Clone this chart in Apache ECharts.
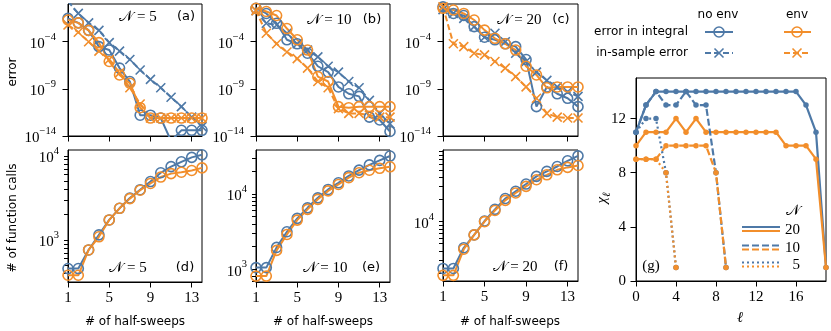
<!DOCTYPE html>
<html>
<head>
<meta charset="utf-8">
<script src="https://cdn.jsdelivr.net/npm/echarts@6/dist/echarts.min.js"></script>
<style>
  html, body { margin: 0; padding: 0; background: #fff; }
  #chart { width: 831px; height: 331px; }
</style>
</head>
<body>
<div id="chart"></div>
<script>
// ---- data ----
const halfSweeps = [1, 2, 3, 4, 5, 6, 7, 8, 9, 10, 11, 12, 13, 14];

// error panels (a) N=5, (b) N=10, (c) N=20
const errIntNoEnv5 = [3e-2, 1e-2, 1.6e-3, 3e-5, 1.3e-5, 1.6e-7, 6e-9, 1.6e-12, 1.6e-12, 8e-13, 3e-15, 4e-14, 4e-14, 4e-14];
const errSmpNoEnv5 = [2, 1e-1, 1e-2, 1.6e-3, 8e-5, 1e-5, 1.3e-6, 1e-7, 1e-8, 1.3e-9, 1.3e-10, 1.3e-11, 1e-12, 1e-13];
const errIntEnv5 = [2e-2, 1e-2, 1.6e-3, 8e-5, 8e-7, 3e-8, 4e-9, 1e-11, 8e-13, 8e-13, 8e-13, 8e-13, 8e-13, 8e-13];
const errSmpEnv5 = [6e-3, 1e-3, 1e-4, 1e-5, 1.3e-6, 5e-8, 1.3e-9, 2.5e-11, 8e-13, 8e-13, 8e-13, 8e-13, 8e-13, 8e-13];

const errIntNoEnv10 = [0.35, 0.1, 9e-3, 1.6e-4, 6e-5, 6e-6, 2.5e-7, 6e-8, 1.6e-9, 3e-10, 1.6e-10, 1e-12, 5e-13, 3e-14];
const errSmpNoEnv10 = [0.2, 9e-3, 6e-3, 8e-4, 6e-5, 1.3e-5, 2.5e-6, 2.5e-7, 6e-8, 6e-9, 1.3e-9, 6e-11, 2.5e-12, 2e-13];
const errIntEnv10 = [0.35, 0.16, 6e-2, 2.5e-3, 1.6e-4, 1.3e-5, 2e-8, 6e-9, 1.3e-11, 1e-11, 1.3e-11, 1.3e-11, 1.3e-11, 1.3e-11];
const errSmpEnv10 = [0.2, 8e-4, 6e-5, 8e-6, 1.6e-6, 1.6e-7, 6e-9, 1.3e-9, 8e-12, 2.5e-12, 2.5e-12, 1.6e-12, 1e-12, 1e-12];

const errIntNoEnv20 = [0.5, 0.1, 6e-2, 4e-3, 3e-4, 1.6e-4, 6e-5, 3e-5, 1.3e-6, 1.3e-11, 1.6e-9, 3e-10, 1e-10, 1.3e-11];
const errSmpNoEnv20 = [0.25, 0.1, 3e-2, 4e-3, 3e-4, 8e-4, 1e-4, 6e-6, 8e-7, 6e-8, 8e-9, 1.6e-9, 5e-10, 1.6e-10];
const errIntEnv20 = [0.35, 0.23, 0.1, 2e-2, 1.7e-3, 2.3e-4, 6e-5, 1.3e-5, 2.5e-7, 3e-8, 1.3e-9, 1.6e-9, 1.6e-9, 1.6e-9];
const errSmpEnv20 = [0.5, 6e-5, 3e-5, 6e-6, 4e-6, 8e-7, 1.6e-7, 2e-8, 1.6e-9, 1e-10, 2.5e-12, 1e-12, 8e-13, 8e-13];

// function-call panels (d) N=5, (e) N=10, (f) N=20
const callsNoEnv5 = [457, 457, 760, 1150, 1730, 2380, 3150, 3960, 4950, 6300, 7450, 8500, 9600, 10300];
const callsEnv5 = [380, 380, 760, 1090, 1730, 2380, 3100, 3900, 4700, 5600, 6150, 6400, 6700, 7200];
const callsNoEnv10 = [1050, 1050, 1950, 3150, 4750, 6550, 8900, 11500, 14100, 17400, 20800, 24400, 28000, 32000];
const callsEnv10 = [810, 810, 1780, 2900, 4500, 6250, 8500, 11000, 13400, 16500, 19200, 20700, 22000, 23000];
const callsNoEnv20 = [2300, 2300, 4400, 6600, 10200, 14700, 20700, 26000, 32600, 41500, 48600, 56600, 67700, 79000];
const callsEnv20 = [1850, 1850, 4200, 6600, 10000, 14200, 19500, 24600, 30300, 37300, 43600, 51000, 55000, 58400];

// bond dimensions, panel (g)
const bonds20 = [0, 1, 2, 3, 4, 5, 6, 7, 8, 9, 10, 11, 12, 13, 14, 15, 16, 17, 18, 19];
const chiNoEnv20 = [11, 13, 14, 14, 14, 14, 14, 14, 14, 14, 14, 14, 14, 14, 14, 14, 14, 13, 11, 1];
const chiEnv20 = [10, 11, 11, 11, 12, 11, 12, 11, 11, 11, 11, 11, 11, 11, 11, 10, 10, 10, 9, 1];
const bonds10 = [0, 1, 2, 3, 4, 5, 6, 7, 8, 9];
const chiNoEnv10 = [11, 13, 14, 13, 13, 14, 13, 13, 8, 1];
const chiEnv10 = [9, 9, 9, 10, 10, 10, 10, 10, 8, 1];
const bonds5 = [0, 1, 2, 3, 4];
const chiNoEnv5 = [11, 12, 12, 8, 1];
const chiEnv5 = [9, 9, 9, 8, 1];

// ticks and axis limits
const sweepTicks = [1, 5, 9, 13];
const errTicks = [1e-14, 1e-9, 1e-4];
const errRange = [1e-14, 1];
const callsRange5 = [316, 11750];
const callsRange10 = [676, 38500];
const callsRange20 = [1550, 95000];
const callMajor = [1e3, 1e4];
const bondTicks = [0, 4, 8, 12, 16];
const chiTicks = [0, 4, 8, 12];

// ---- chart ----
const chart = echarts.init(document.getElementById('chart'));

const BLUE = '#4e79a7';
const ORANGE = '#f28e2b';
const SERIF = '"Liberation Serif", "DejaVu Serif", serif';
const SANS = '"DejaVu Sans", sans-serif';

const grids = [
  { left: 68, top: 4, width: 134, height: 132 },
  { left: 256, top: 4, width: 134, height: 132 },
  { left: 443, top: 4, width: 135, height: 132 },
  { left: 68, top: 150, width: 134, height: 132 },
  { left: 256, top: 150, width: 134, height: 132 },
  { left: 443, top: 150, width: 135, height: 131 },
  { left: 636, top: 78, width: 190, height: 203 }
].map(g => Object.assign({ show: true, borderColor: '#000', borderWidth: 1, containLabel: false }, g));

const powLabel = v => {
  const e = Math.round(Math.log10(v));
  return '{b|10}{s|' + (e < 0 ? '\u2212' + (-e) : e) + '}';
};
const powRich = {
  b: { fontFamily: SERIF, fontSize: 15, color: '#000', lineHeight: 20, verticalAlign: 'bottom' },
  s: { fontFamily: SERIF, fontSize: 10.5, color: '#000', lineHeight: 12, verticalAlign: 'top' }
};

// tick positions 1..9 x 10^k inside a range
function logTickValues(range) {
  const out = [];
  for (let k = Math.floor(Math.log10(range[0])); k <= Math.ceil(Math.log10(range[1])); k++) {
    for (let m = 1; m < 10; m++) {
      const v = m * Math.pow(10, k);
      if (v >= range[0] && v <= range[1]) out.push(v);
    }
  }
  return out;
}

const tick = { show: true, inside: false, length: 5.5, lineStyle: { color: '#000', width: 1 } };
const axLine = { show: true, lineStyle: { color: '#000', width: 1 } };

const xAxes = [];
const yAxes = [];
for (let i = 0; i < 6; i++) {
  xAxes.push({
    type: 'value', gridIndex: i, min: 1, max: 14,
    axisLine: axLine, splitLine: { show: false },
    axisTick: Object.assign({ customValues: sweepTicks }, tick),
    axisLabel: { show: i >= 3, customValues: sweepTicks, margin: 9, fontFamily: SERIF, fontSize: 15, color: '#000' }
  });
}
[errRange, errRange, errRange].forEach((r, i) => {
  yAxes.push({
    type: 'log', logBase: 10, gridIndex: i, min: r[0], max: r[1],
    axisLine: axLine, splitLine: { show: false },
    axisTick: Object.assign({ customValues: errTicks }, tick),
    axisLabel: { customValues: errTicks, formatter: powLabel, rich: powRich, margin: 12 }
  });
});
[callsRange5, callsRange10, callsRange20].forEach((r, i) => {
  yAxes.push({
    type: 'log', logBase: 10, gridIndex: i + 3, min: r[0], max: r[1],
    axisLine: axLine, splitLine: { show: false },
    axisTick: Object.assign({ customValues: logTickValues(r) }, tick, { length: 4 }),
    axisLabel: { customValues: callMajor, formatter: powLabel, rich: powRich, margin: 9 }
  });
});
xAxes.push({
  type: 'value', gridIndex: 6, min: 0, max: 19,
  axisLine: axLine, splitLine: { show: false },
  axisTick: Object.assign({ customValues: bondTicks }, tick),
  axisLabel: { customValues: bondTicks, margin: 9, fontFamily: SERIF, fontSize: 15, color: '#000' }
});
yAxes.push({
  type: 'value', gridIndex: 6, min: 0, max: 15,
  axisLine: axLine, splitLine: { show: false },
  axisTick: Object.assign({ customValues: chiTicks }, tick),
  axisLabel: { customValues: chiTicks, margin: 10, fontFamily: SERIF, fontSize: 15, color: '#000' }
});

const CROSS = 'path://M0,0L10,10M0,10L10,0';

function markSeries(gi, xs, ys, color, opts) {
  return {
    type: 'line', xAxisIndex: gi, yAxisIndex: gi,
    data: xs.map((x, i) => [x, ys[i]]),
    symbol: opts.symbol, symbolSize: opts.size,
    lineStyle: { color: color, width: opts.width, type: opts.dash || 'solid' },
    itemStyle: opts.filled
      ? { color: color }
      : { color: 'rgba(0,0,0,0)', borderColor: color, borderWidth: 1.6 },
    clip: true, silent: true, animation: false
  };
}

const errSets = [
  [errIntNoEnv5, errSmpNoEnv5, errIntEnv5, errSmpEnv5],
  [errIntNoEnv10, errSmpNoEnv10, errIntEnv10, errSmpEnv10],
  [errIntNoEnv20, errSmpNoEnv20, errIntEnv20, errSmpEnv20]
];
const callSets = [
  [callsNoEnv5, callsEnv5],
  [callsNoEnv10, callsEnv10],
  [callsNoEnv20, callsEnv20]
];

const series = [];
errSets.forEach((s, gi) => {
  series.push(markSeries(gi, halfSweeps, s[0], BLUE, { symbol: 'circle', size: 10, width: 2 }));
  series.push(markSeries(gi, halfSweeps, s[1], BLUE, { symbol: CROSS, size: 9, width: 2, dash: [6, 3] }));
  series.push(markSeries(gi, halfSweeps, s[2], ORANGE, { symbol: 'circle', size: 10, width: 2 }));
  series.push(markSeries(gi, halfSweeps, s[3], ORANGE, { symbol: CROSS, size: 9, width: 2, dash: [6, 3] }));
});
callSets.forEach((s, i) => {
  series.push(markSeries(i + 3, halfSweeps, s[0], BLUE, { symbol: 'circle', size: 10, width: 2 }));
  series.push(markSeries(i + 3, halfSweeps, s[1], ORANGE, { symbol: 'circle', size: 10, width: 2 }));
});
const chiSets = [
  [bonds20, chiNoEnv20, chiEnv20, 'solid'],
  [bonds10, chiNoEnv10, chiEnv10, [7, 3]],
  [bonds5, chiNoEnv5, chiEnv5, [2, 3]]
];
chiSets.forEach(s => {
  series.push(markSeries(6, s[0], s[1], BLUE, { symbol: 'circle', size: 5.5, width: 2.2, dash: s[3], filled: true }));
  series.push(markSeries(6, s[0], s[2], ORANGE, { symbol: 'circle', size: 5.5, width: 2.2, dash: s[3], filled: true }));
});

// ---- annotations ----
const txt = (x, y, text, font, align, extra) => Object.assign({
  type: 'text', x: x, y: y, silent: true,
  style: { text: text, font: font, fill: '#000', align: align || 'center', verticalAlign: 'middle' }
}, extra || {});
const seg = (x1, y1, x2, y2, color, dash, w) => ({
  type: 'line', silent: true, shape: { x1: x1, y1: y1, x2: x2, y2: y2 },
  style: { stroke: color, lineWidth: w || 2, lineDash: dash || null }
});
const ring = (cx, cy, color) => ({
  type: 'circle', silent: true, shape: { cx: cx, cy: cy, r: 5 },
  style: { fill: 'none', stroke: color, lineWidth: 1.6 }
});
const cross = (cx, cy, color) => [
  seg(cx - 4.5, cy - 4.5, cx + 4.5, cy + 4.5, color, null, 1.6),
  seg(cx - 4.5, cy + 4.5, cx + 4.5, cy - 4.5, color, null, 1.6)
];

const LAB = '12px ' + SANS;
const TAG = '13px ' + SANS;
const graphics = [
  txt(138, 17, '\u{1D4A9} = 5', '15px ' + SERIF),
  txt(186, 17, '(a)', TAG),
  txt(329, 20, '\u{1D4A9} = 10', '15px ' + SERIF),
  txt(372, 20, '(b)', TAG),
  txt(519, 20, '\u{1D4A9} = 20', '15px ' + SERIF),
  txt(561, 20, '(c)', TAG),
  txt(128, 268, '\u{1D4A9} = 5', '15px ' + SERIF),
  txt(185, 268, '(d)', TAG),
  txt(325, 268, '\u{1D4A9} = 10', '15px ' + SERIF),
  txt(371, 268, '(e)', TAG),
  txt(515, 267, '\u{1D4A9} = 20', '15px ' + SERIF),
  txt(561, 267, '(f)', TAG),
  txt(651, 266, '(g)', '15px ' + SERIF),

  txt(13, 72, 'error', LAB, 'center', { rotation: Math.PI / 2 }),
  txt(13, 218, '# of function calls', LAB, 'center', { rotation: Math.PI / 2 }),
  txt(135, 322, '# of half-sweeps', LAB),
  txt(323, 322, '# of half-sweeps', LAB),
  txt(510, 322, '# of half-sweeps', LAB),
  txt(740, 318, '\u2113', 'italic 15px ' + SERIF),
  {
    type: 'text', x: 604, y: 198, rotation: Math.PI / 2, silent: true,
    style: {
      text: '{c|\u03C7}{l|\u2113}', align: 'center', verticalAlign: 'middle',
      rich: {
        c: { font: 'italic 15px ' + SERIF, fill: '#000', lineHeight: 18, verticalAlign: 'top' },
        l: { font: 'italic 11px ' + SERIF, fill: '#000', lineHeight: 12, verticalAlign: 'bottom' }
      }
    }
  },

  // top legend
  txt(718, 15, 'no env', LAB),
  txt(797, 15, 'env', LAB),
  txt(688, 32, 'error in integral', LAB, 'right'),
  txt(688, 53, 'in-sample error', LAB, 'right'),
  seg(705, 32, 733, 32, BLUE), ring(719, 32, BLUE),
  seg(784, 32, 811, 32, ORANGE), ring(797, 32, ORANGE),
  seg(705, 53, 733, 53, BLUE, [6, 3]), ...cross(719, 53, BLUE),
  seg(784, 53, 811, 53, ORANGE, [6, 3]), ...cross(797, 53, ORANGE),

  // legend of (g)
  txt(793, 211, '\u{1D4A9}', '15px ' + SERIF),
  seg(742, 227, 780, 227, BLUE, null, 2.2), seg(742, 231, 780, 231, ORANGE, null, 2.2),
  txt(800, 230, '20', '15px ' + SERIF, 'right'),
  seg(742, 245.5, 780, 245.5, BLUE, [7, 3], 2.2), seg(742, 249.5, 780, 249.5, ORANGE, [7, 3], 2.2),
  txt(800, 248, '10', '15px ' + SERIF, 'right'),
  seg(742, 262.5, 780, 262.5, BLUE, [2, 3], 2.2), seg(742, 266.5, 780, 266.5, ORANGE, [2, 3], 2.2),
  txt(800, 265, '5', '15px ' + SERIF, 'right')
];

chart.setOption({
  animation: false,
  backgroundColor: '#fff',
  grid: grids,
  xAxis: xAxes,
  yAxis: yAxes,
  series: series,
  graphic: graphics
});
</script>
</body>
</html>
